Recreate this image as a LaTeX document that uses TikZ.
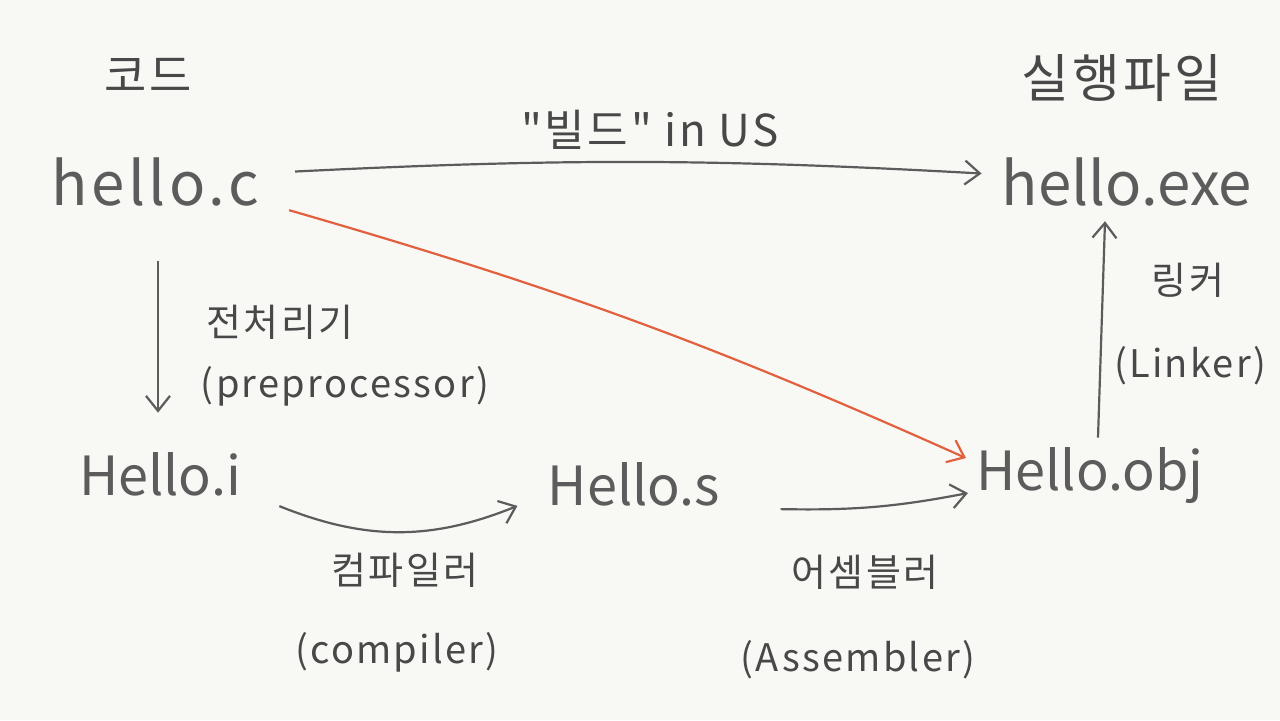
\documentclass[tikz,border=0pt]{standalone}
\usepackage{fontspec}
\setmainfont[LetterSpace=6,Ligatures=TeXOff]{Noto Sans CJK KR}
\newfontfamily\tightfont[LetterSpace=0]{Noto Sans CJK KR}
\usetikzlibrary{arrows.meta,calc}
\definecolor{bg}{HTML}{F8F8F5}
\definecolor{ink}{HTML}{484848}
\definecolor{softink}{HTML}{5C5C5C}
\definecolor{redink}{HTML}{E2603E}
\begin{document}
\begin{tikzpicture}[x=0.5pt,y=-0.5pt,
  txt/.style={inner sep=0pt,text=ink},
  file/.style={txt,text=softink,font=\fontsize{30}{34}\selectfont,anchor=base},
  tightfile/.style={txt,text=softink,font=\tightfont\fontsize{27}{32}\selectfont,anchor=base},
  lbl/.style={txt,font=\fontsize{19}{22}\selectfont},
  title/.style={txt,font=\fontsize{23}{26}\selectfont},
  conn/.style={draw=softink,line width=1.1pt,-{Straight Barb[length=7.5pt,width=12pt,line width=1.1pt]}},
  redconn/.style={conn,draw=redink}
]
\fill[bg] (0,0) rectangle (1280,720);
\useasboundingbox (0,0) rectangle (1280,720);

% titles
\node[title] (kodeu) at (148,75) {코드};
\node[title,font=\fontsize{26}{30}\selectfont] (exetitle) at (1122,78) {실행파일};
\node[lbl,font=\fontsize{22}{26}\selectfont] (build) at (650,130) {"빌드" in US};

% file nodes
\node[file] (c) at (155,205) {hello.c};
\node[file,font=\tightfont\fontsize{30}{34}\selectfont] (exe) at (1127,205) {hello.exe};
\node[tightfile] (i) at (160,495) {Hello.i};
\node[tightfile] (s) at (634,505) {Hello.s};
\node[tightfile] (obj) at (1090,490) {Hello.obj};

% labels
\node[lbl] (pre) at (280,322) {전처리기};
\node[lbl] (preen) at (345,386) {(preprocessor)};
\node[lbl] (comp) at (405,570) {컴파일러};
\node[lbl] (compen) at (397,652) {(compiler)};
\node[lbl] (asm) at (865,572) {어셈블러};
\node[lbl] (asmen) at (858,660) {(Assembler)};
\node[lbl] (link) at (1188,280) {링커};
\node[lbl] (linken) at (1190,366) {(Linker)};

% connectors
\draw[conn] ([xshift=18pt,yshift=5pt]c.east) to[bend left=3] ([xshift=-10pt,yshift=4pt]exe.west);
\draw[redconn] ([xshift=15pt,yshift=-2pt]c.south east) to[bend left=4] ([xshift=-5pt,yshift=8.5pt]obj.west);
\draw[conn] ([xshift=1.5pt,yshift=-27.5pt]c.south) -- ([xshift=-1pt,yshift=19.5pt]i.north);
\draw[conn] ([xshift=19pt,yshift=-5pt]i.south east) to[bend right=22] ([xshift=-15pt,yshift=-11pt]s.west);
\draw[conn] ([xshift=30pt,yshift=-1.5pt]s.south east) to[bend right=6] ([xshift=-4pt,yshift=-9pt]obj.west);
\draw[conn] ([xshift=4pt,yshift=4.5pt]obj.north) -- ([xshift=-11pt,yshift=-7.5pt]exe.south);
\end{tikzpicture}
\end{document}
